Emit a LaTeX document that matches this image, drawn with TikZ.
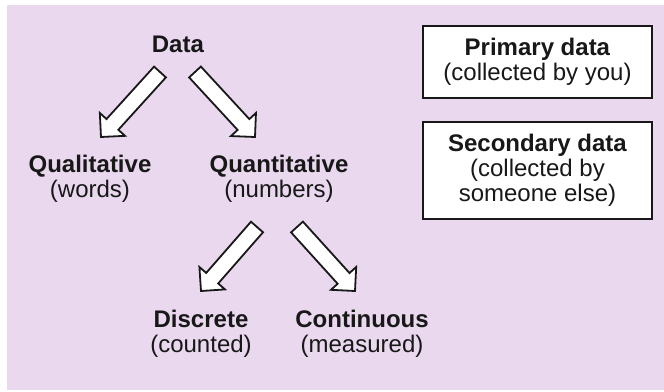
\documentclass[tikz,border=0pt]{standalone}
\usepackage{fontspec}
\setmainfont{Liberation Sans}
\usepackage{tikz}
\usetikzlibrary{calc}

\definecolor{bgpurple}{RGB}{233,216,238}
\definecolor{inkgray}{RGB}{24,24,24}

% hollow block arrow from tail #1 to tip #2
\newcommand{\blockarrow}[2]{%
  \coordinate (hb) at ($(#2)!8.5pt!(#1)$);
  \draw[fatarrow] ($(#1)!4pt!90:(#2)$) -- ($(hb)!4pt!90:(#2)$) -- ($(hb)!8.5pt!90:(#2)$) -- (#2)
    -- ($(hb)!8.5pt!-90:(#2)$) -- ($(hb)!4pt!-90:(#2)$) -- ($(#1)!4pt!-90:(#2)$) -- cycle;}

\begin{document}
\begin{tikzpicture}[x=0.5pt, y=-0.5pt,
    term/.style={align=center, inner sep=0pt, font=\fontsize{12}{12.5}\selectfont, text=inkgray},
    infobox/.style={rectangle, draw=inkgray, line width=1.1pt, fill=white, minimum width=114.5pt, minimum height=36pt, inner sep=0pt, align=center, font=\fontsize{12}{12.5}\selectfont, text=inkgray},
    fatarrow/.style={draw=inkgray, line width=0.9pt, fill=white}
]
\useasboundingbox (0,0) rectangle (664,391);

% Background
\fill[white] (0,0) rectangle (664,391);
\fill[bgpurple] (7,5) rectangle (664,390);

% Tree of data types
\node at (178,44) [term] (data) {\textbf{Data}};
\node at (90,179) [term] (qual) {\textbf{Qualitative}\\(words)};
\node at (279,179) [term] (quant) {\textbf{Quantitative}\\(numbers)};
\node at (201,334) [term] (disc) {\textbf{Discrete}\\(counted)};
\node at (362,334) [term] (cont) {\textbf{Continuous}\\(measured)};

% Sources
\node at (537.5,62) [infobox] (prim) {\textbf{Primary data}\\(collected by you)};
\node at (537.5,170.5) [infobox, minimum height=48.5pt] (sec) {\textbf{Secondary data}\\(collected by\\someone else)};

% Arrow ends
\coordinate (dataL) at (160,72);
\coordinate (qualT) at (101,137);
\coordinate (dataR) at (195,72);
\coordinate (quantT) at (255,137);
\coordinate (quantL) at (257,227);
\coordinate (discT) at (201,291);
\coordinate (quantR) at (297,227);
\coordinate (contT) at (355,291);

% Arrows
\blockarrow{dataL}{qualT}
\blockarrow{dataR}{quantT}
\blockarrow{quantL}{discT}
\blockarrow{quantR}{contT}

\end{tikzpicture}
\end{document}
